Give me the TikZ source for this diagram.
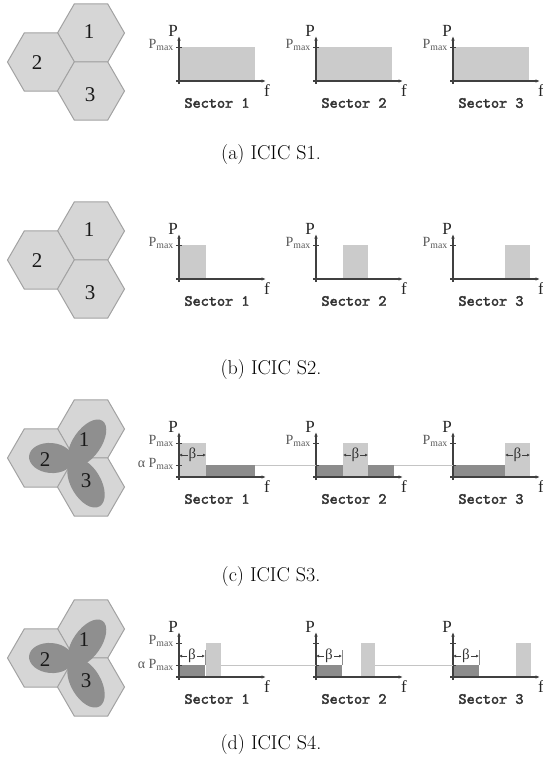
\documentclass[tikz,border=0pt]{standalone}
\usepackage{fontspec}
\newfontfamily\tmsfont{Liberation Serif}
\newfontfamily\secfont[FakeBold=2.5]{lmmono10-regular.otf}
\usetikzlibrary{arrows.meta,shapes.geometric}
\definecolor{hexfill}{HTML}{D6D6D6}
\definecolor{hexline}{HTML}{A2A2A2}
\definecolor{lobe}{HTML}{8F8F8F}
\definecolor{barlight}{HTML}{CBCBCB}
\definecolor{bardark}{HTML}{8C8C8C}
\definecolor{axcol}{HTML}{404040}
\definecolor{guide}{HTML}{C4C4C4}
\tikzset{
 hexcell/.style={regular polygon, regular polygon sides=6, minimum size=67pt, inner sep=0pt, outer sep=0pt, draw=hexline, fill=hexfill, line width=1pt},
 hexnum/.style={font=\tmsfont\fontsize{21}{21}\selectfont, text=black!90, inner sep=0pt},
 lobefill/.style={fill=lobe},
 axisline/.style={draw=axcol, line width=1.3pt},
 axarrow/.style={axisline, -{Latex[length=4.5pt,width=3.5pt]}},
 ticksty/.style={draw=axcol, line width=0.7pt},
 plab/.style={font=\tmsfont\fontsize{17}{17}\selectfont, inner sep=0pt, text=black!85},
 pmaxlab/.style={font=\tmsfont\fontsize{14}{14}\selectfont, inner sep=0pt, text=black!65, anchor=east},
 seclab/.style={font=\secfont\fontsize{15.5}{15.5}\selectfont, inner sep=0pt, text=black!80},
 caplab/.style={font=\fontsize{20}{22}\selectfont, inner sep=0pt},
 lightbar/.style={fill=barlight},
 darkbar/.style={fill=bardark},
 guideline/.style={draw=guide, line width=0.7pt},
 extline/.style={draw=black!45, line width=0.5pt},
 betaarrow/.style={draw=axcol, line width=0.8pt, -{Latex[length=3pt,width=3pt]}},
 betalab/.style={font=\tmsfont\fontsize{15}{15}\selectfont, inner sep=0.8pt, text=black!80},
 axes/.pic={
   \draw[axarrow] (0,3) -- (0,-45) coordinate (-top);
   \draw[axarrow] (-3,0) -- (87,0) coordinate (-end);
   \draw[ticksty] (-3,-34) -- (3,-34);
   \node[plab] (-P) at (-6,-50) {P};
   \node[plab] (-f) at (88,10) {f};
   \node[seclab] (-s) at (38,22) {Sector #1};
 }
}
\begin{document}
\begin{tikzpicture}[x=1pt,y=-1pt]
\useasboundingbox (0,0) rectangle (543,761);
% ---------------- hexagon groups
\foreach \off/\tag in {0/a,198/b,396/c,596/d}{
  \node[hexcell] (hexone\tag) at (91,33+\off) {};
  \node[hexcell] (hextwo\tag) at (41,62+\off) {};
  \node[hexcell] (hexthree\tag) at (91,91+\off) {};
}
\foreach \off/\tag in {396/c,596/d}{
  \fill[lobefill, shift={(87,47+\off)}, rotate=55] (0,0) ellipse [x radius=27pt, y radius=14pt];
  \fill[lobefill, shift={(51,62+\off)}, rotate=-5] (0,0) ellipse [x radius=22pt, y radius=15pt];
  \fill[lobefill, shift={(86,87+\off)}, rotate=-60] (0,0) ellipse [x radius=27pt, y radius=15pt];
}
\foreach \off/\tag in {0/a,198/b}{
  \node[hexnum] (numone\tag) at (89,32+\off) {1};
  \node[hexnum] (numtwo\tag) at (37,63+\off) {2};
  \node[hexnum] (numthree\tag) at (90,95+\off) {3};
}
\foreach \off/\tag in {396/c,596/d}{
  \node[hexnum] (numone\tag) at (84,44+\off) {1};
  \node[hexnum] (numtwo\tag) at (45,64+\off) {2};
  \node[hexnum] (numthree\tag) at (86,85+\off) {3};
}
% ---------------- (a)
\foreach \x/\k in {179/1,316/2,453/3}{
  \begin{scope}[shift={(\x,81)}]
    \fill[lightbar] (0,-34) rectangle (76,0);
    \pic (pa\k) {axes=\k};
    \node[pmaxlab] (pmaxa\k) at (-5,-36) {P\textsubscript{max}};
  \end{scope}
}
% ---------------- (b)
\foreach \x/\k/\s/\e in {179/1/0/27,316/2/27/52,453/3/52/77}{
  \begin{scope}[shift={(\x,279)}]
    \fill[lightbar] (\s,-34) rectangle (\e,0);
    \pic (pb\k) {axes=\k};
    \node[pmaxlab] (pmaxb\k) at (-5,-36) {P\textsubscript{max}};
  \end{scope}
}
% ---------------- (c)
\begin{scope}[shift={(179,477)}]
  \fill[lightbar] (0,-34) rectangle (27,0);
  \fill[darkbar] (27,-12) rectangle (76,0);
  \coordinate (gcA) at (76,-12);
  \pic (pc1) {axes=1};
  \draw[ticksty] (-3,-12) -- (3,-12);
  \node[betalab] (betac1) at (13.5,-22) {β};
  \draw[betaarrow] (betac1.west) -- (0,-22);
  \draw[betaarrow] (betac1.east) -- (27,-22);
  \node[pmaxlab] (pmaxc1) at (-5,-36) {P\textsubscript{max}};
  \node[pmaxlab] (apmaxc1) at (-5,-13) {α P\textsubscript{max}};
\end{scope}
\begin{scope}[shift={(316,477)}]
  \fill[darkbar] (0,-12) rectangle (27,0);
  \fill[lightbar] (27,-34) rectangle (52,0);
  \fill[darkbar] (52,-12) rectangle (78,0);
  \coordinate (gcB) at (0,-12);
  \coordinate (gcC) at (78,-12);
  \pic (pc2) {axes=2};
  \draw[ticksty] (-3,-12) -- (3,-12);
  \node[betalab] (betac2) at (39.5,-22) {β};
  \draw[betaarrow] (betac2.west) -- (27,-22);
  \draw[betaarrow] (betac2.east) -- (52,-22);
  \node[pmaxlab] (pmaxc2) at (-5,-36) {P\textsubscript{max}};
\end{scope}
\begin{scope}[shift={(453,477)}]
  \fill[darkbar] (0,-12) rectangle (52,0);
  \fill[lightbar] (52,-34) rectangle (77,0);
  \coordinate (gcD) at (0,-12);
  \pic (pc3) {axes=3};
  \draw[ticksty] (-3,-12) -- (3,-12);
  \node[betalab] (betac3) at (64.5,-22) {β};
  \draw[betaarrow] (betac3.west) -- (52,-22);
  \draw[betaarrow] (betac3.east) -- (77,-22);
  \node[pmaxlab] (pmaxc3) at (-5,-36) {P\textsubscript{max}};
\end{scope}
\draw[guideline] (gcA) -- (gcB);
\draw[guideline] (gcC) -- (gcD);
% ---------------- (d)
\foreach \x/\k/\s/\e in {179/1/27/42,316/2/45/59,453/3/63/78}{
  \begin{scope}[shift={(\x,677)}]
    \fill[darkbar] (0,-12) rectangle (26,0);
    \fill[lightbar] (\s,-34) rectangle (\e,0);
    \coordinate (gdL\k) at (0,-12);
    \coordinate (gdR\k) at (\e,-12);
    \pic (pd\k) {axes=\k};
    \draw[ticksty] (-3,-12) -- (3,-12);
    \draw[extline] (26,-12) -- (26,-27);
    \node[betalab] (betad\k) at (13,-21) {β};
    \draw[betaarrow] (betad\k.west) -- (0,-21);
    \draw[betaarrow] (betad\k.east) -- (26,-21);
  \end{scope}
}
\node[pmaxlab] (pmaxd1) at (174,641) {P\textsubscript{max}};
\node[pmaxlab] (apmaxd1) at (174,665) {α P\textsubscript{max}};
\draw[guideline] (gdR1) -- (gdL2);
\draw[guideline] (gdR2) -- (gdL3);
% ---------------- captions
\node[caplab] (capa) at (271,155) {(a) ICIC S1.};
\node[caplab] (capb) at (271,370) {(b) ICIC S2.};
\node[caplab] (capc) at (271,577) {(c) ICIC S3.};
\node[caplab] (capd) at (271,745) {(d) ICIC S4.};
\end{tikzpicture}
\end{document}
